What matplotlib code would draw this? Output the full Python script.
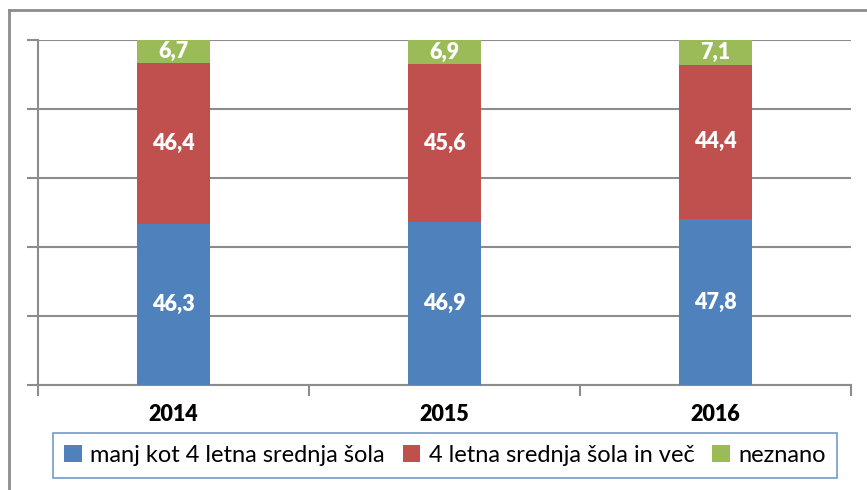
import numpy as np
import matplotlib.pyplot as plt
from matplotlib.patches import Patch
from matplotlib.lines import Line2D

plt.rcParams['font.family'] = ['Lato', 'DejaVu Sans']

years = ['2014', '2015', '2016']
manj = [46.3, 46.9, 47.8]
vec = [46.4, 45.6, 44.4]
neznano = [6.7, 6.9, 7.1]
labels = ['manj kot 4 letna srednja šola', '4 letna srednja šola in več', 'neznano']
colors = ['#4F81BD', '#C0504D', '#9BBB59']

W, H = 867, 490
fig = plt.figure(figsize=(W / 100, H / 100), dpi=100)
ax = fig.add_axes([38 / W, 1 - 385 / H, 813 / W, 345 / H])

series = np.array([manj, vec, neznano])
totals = series.sum(axis=0)  # 100% stacked, like the original
x = np.arange(len(years)) + 0.5
bw = 0.27
bottom = np.zeros(len(years))
for vals, c in zip(series, colors):
    h = vals / totals * 100
    ax.bar(x, h, bw, bottom=bottom, color=c, zorder=3)
    for xi, b, hh, v in zip(x, bottom, h, vals):
        ax.text(xi, b + hh / 2, f'{v:.1f}'.replace('.', ','), ha='center', va='center',
                color='white', fontsize=15.5, fontweight='heavy', zorder=4)
    bottom += h

ax.set_xlim(0, 3)
ax.set_ylim(0, 100)
ax.set_yticks(np.arange(0, 101, 20))
ax.set_yticklabels([])
ax.grid(axis='y', color='#8c8c8c', linewidth=1.5, zorder=0)
ax.set_xticks([0, 1, 2, 3])
ax.set_xticklabels([])
ax.set_xticks(x, minor=True)
ax.set_xticklabels(years, minor=True, fontsize=15.5, fontweight='heavy')
ax.tick_params(axis='x', which='minor', length=0, pad=14)
ax.tick_params(axis='both', which='major', length=8, width=1.5, color='#8c8c8c')
for s in ['top', 'right']:
    ax.spines[s].set_visible(False)
for s in ['left', 'bottom']:
    ax.spines[s].set_color('#8c8c8c')
    ax.spines[s].set_linewidth(1.5)

# outer chart border (top and left only visible)
fig.add_artist(Line2D([9 / W, 1.0], [1 - 10 / H] * 2, color='#8c8c8c', linewidth=2,
                      transform=fig.transFigure))
fig.add_artist(Line2D([9 / W] * 2, [0, 1 - 10 / H], color='#8c8c8c', linewidth=2,
                      transform=fig.transFigure))

handles = [Patch(facecolor=c, edgecolor='none') for c in colors]
leg = fig.legend(handles, labels, loc='center', bbox_to_anchor=(445 / W, 1 - 455.5 / H),
                 ncol=3, fontsize=17, frameon=True, fancybox=False,
                 handlelength=0.75, handleheight=0.75, handletextpad=0.35,
                 columnspacing=0.75, borderpad=0.5, borderaxespad=0)
leg.get_frame().set_edgecolor('#4F81BD')
leg.get_frame().set_linewidth(1.2)

fig.savefig('out.png', dpi=100)
